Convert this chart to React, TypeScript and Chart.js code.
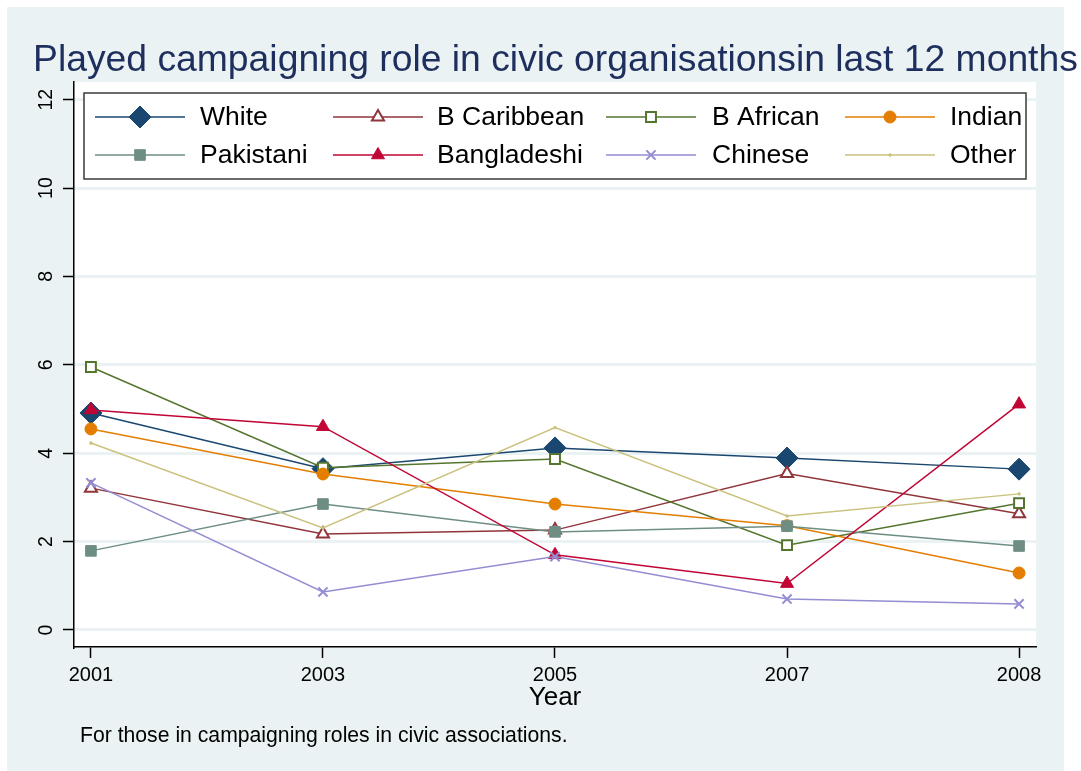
import React, { useEffect, useRef } from 'react';
import { Chart, registerables } from 'chart.js';

Chart.register(...registerables);

const years = ['2001', '2003', '2005', '2007', '2008'];
const yTicks = [0, 2, 4, 6, 8, 10, 12];
const seriesNames = ['White', 'B Caribbean', 'B African', 'Indian', 'Pakistani', 'Bangladeshi', 'Chinese', 'Other'];
const white = [4.91, 3.65, 4.12, 3.89, 3.64];
const bCaribbean = [3.21, 2.17, 2.26, 3.54, 2.63];
const bAfrican = [5.95, 3.67, 3.87, 1.92, 2.87];
const indian = [4.55, 3.53, 2.85, 2.36, 1.29];
const pakistani = [1.79, 2.85, 2.22, 2.35, 1.9];
const bangladeshi = [4.98, 4.6, 1.7, 1.05, 5.11];
const chinese = [3.33, 0.86, 1.66, 0.7, 0.59];
const other = [4.23, 2.31, 4.58, 2.58, 3.08];

const titleText = 'Played campaigning role in civic organisationsin last 12 months';
const xTitle = 'Year';
const noteText = 'For those in campaigning roles in civic associations.';

const FONT = "'Liberation Sans', Arial, Helvetica, sans-serif";

type Style = {
  color: string;
  shape: string;
  r: number;
  hollow: boolean;
  bw: number;
};

const styles: Style[] = [
  { color: '#1a476f', shape: 'rectRot', r: 11, hollow: false, bw: 1 },
  { color: '#90353b', shape: 'triangle', r: 7, hollow: true, bw: 2 },
  { color: '#55752f', shape: 'rect', r: 7, hollow: true, bw: 2 },
  { color: '#e37e00', shape: 'circle', r: 6, hollow: false, bw: 1 },
  { color: '#6e8e84', shape: 'rect', r: 7.5, hollow: false, bw: 1 },
  { color: '#c10534', shape: 'triangle', r: 7.5, hollow: false, bw: 1 },
  { color: '#938dd2', shape: 'crossRot', r: 6.5, hollow: false, bw: 2 },
  { color: '#cac27e', shape: 'circle', r: 1.5, hollow: false, bw: 0.5 },
];

const seriesValues = [white, bCaribbean, bAfrican, indian, pakistani, bangladeshi, chinese, other];

function drawMarker(ctx: CanvasRenderingContext2D, s: Style, x: number, y: number) {
  const r = s.r;
  ctx.save();
  ctx.beginPath();
  ctx.lineWidth = s.bw;
  ctx.strokeStyle = s.color;
  ctx.fillStyle = s.hollow ? '#ffffff' : s.color;
  if (s.shape === 'rectRot') {
    ctx.moveTo(x - r, y);
    ctx.lineTo(x, y - r);
    ctx.lineTo(x + r, y);
    ctx.lineTo(x, y + r);
    ctx.closePath();
  } else if (s.shape === 'rect') {
    const h = Math.SQRT1_2 * r;
    ctx.rect(x - h, y - h, 2 * h, 2 * h);
  } else if (s.shape === 'triangle') {
    let a = 0;
    ctx.moveTo(x + Math.sin(a) * r, y - Math.cos(a) * r);
    a += (2 * Math.PI) / 3;
    ctx.lineTo(x + Math.sin(a) * r, y - Math.cos(a) * r);
    a += (2 * Math.PI) / 3;
    ctx.lineTo(x + Math.sin(a) * r, y - Math.cos(a) * r);
    ctx.closePath();
  } else if (s.shape === 'circle') {
    ctx.arc(x, y, r, 0, Math.PI * 2);
    ctx.closePath();
  } else if (s.shape === 'crossRot') {
    const o = Math.cos(Math.PI / 4) * r;
    ctx.moveTo(x - o, y - o);
    ctx.lineTo(x + o, y + o);
    ctx.moveTo(x + o, y - o);
    ctx.lineTo(x - o, y + o);
    ctx.stroke();
    ctx.restore();
    return;
  }
  ctx.fill();
  if (s.bw > 0) ctx.stroke();
  ctx.restore();
}

const backgroundPlugin = {
  id: 'stataBackground',
  beforeDraw(chart: any) {
    const { ctx, chartArea } = chart;
    ctx.save();
    ctx.fillStyle = '#ffffff';
    ctx.fillRect(0, 0, chart.width, chart.height);
    ctx.fillStyle = '#eaf2f3';
    ctx.fillRect(7, 7, 1057, 764);
    ctx.fillStyle = '#ffffff';
    ctx.fillRect(chartArea.left, chartArea.top, chartArea.right - chartArea.left, chartArea.bottom - chartArea.top);
    ctx.restore();
  },
};

const legendCols = [
  { marker: 140, text: 200 },
  { marker: 378, text: 437 },
  { marker: 651, text: 712 },
  { marker: 890, text: 950 },
];
const legendRows = [117, 155];

const decorPlugin = {
  id: 'stataDecor',
  afterDraw(chart: any) {
    const { ctx, chartArea } = chart;
    ctx.save();
    // Title
    ctx.fillStyle = '#1e2f5e';
    ctx.font = `37.3px ${FONT}`;
    ctx.textAlign = 'left';
    ctx.textBaseline = 'alphabetic';
    ctx.fillText(titleText, 33, 71);

    // Legend box
    const lx = 84, ly = 93, lw = 1026 - 84, lh = 179 - 93;
    ctx.fillStyle = '#ffffff';
    ctx.fillRect(lx, ly, lw, lh);
    ctx.strokeStyle = '#3a3a3a';
    ctx.lineWidth = 1.5;
    ctx.strokeRect(lx, ly, lw, lh);

    ctx.font = `26.5px ${FONT}`;
    ctx.textBaseline = 'middle';
    seriesNames.forEach((name, i) => {
      const col = legendCols[i % 4];
      const rowY = legendRows[Math.floor(i / 4)];
      const s = styles[i];
      ctx.beginPath();
      ctx.strokeStyle = s.color;
      ctx.lineWidth = 1.5;
      ctx.moveTo(col.marker - 45, rowY);
      ctx.lineTo(col.marker + 45, rowY);
      ctx.stroke();
      drawMarker(ctx, s, col.marker, rowY);
      ctx.fillStyle = '#000000';
      ctx.textAlign = 'left';
      ctx.fillText(name, col.text, rowY + 1);
    });

    // X axis title
    ctx.fillStyle = '#000000';
    ctx.font = `26px ${FONT}`;
    ctx.textAlign = 'center';
    ctx.textBaseline = 'middle';
    ctx.fillText(xTitle, (chartArea.left + chartArea.right) / 2, 698);

    // Note
    ctx.font = `21.2px ${FONT}`;
    ctx.textAlign = 'left';
    ctx.textBaseline = 'alphabetic';
    ctx.fillText(noteText, 80, 742);
    ctx.restore();
  },
};

export default function App() {
  const canvasRef = useRef<HTMLCanvasElement | null>(null);

  useEffect(() => {
    if (!canvasRef.current) return;
    Chart.defaults.font.family = FONT;
    const datasets = seriesNames.map((name, i) => {
      const s = styles[i];
      return {
        label: name,
        data: seriesValues[i].map((v, j) => ({ x: j, y: v })),
        borderColor: s.color,
        backgroundColor: s.color,
        borderWidth: 1.5,
        pointStyle: s.shape,
        pointRadius: s.r,
        pointHoverRadius: s.r,
        pointBackgroundColor: s.hollow ? '#ffffff' : s.color,
        pointBorderColor: s.color,
        pointBorderWidth: s.bw,
        tension: 0,
        fill: false,
        order: seriesNames.length - i,
        clip: false as any,
      };
    });

    const chart = new Chart(canvasRef.current, {
      type: 'line',
      data: { datasets },
      options: {
        animation: false,
        responsive: false,
        maintainAspectRatio: false,
        events: [],
        layout: { padding: { left: 0, top: 82, right: 45, bottom: 84 } },
        plugins: {
          legend: { display: false },
          tooltip: { enabled: false },
          title: { display: false },
        },
        scales: {
          x: {
            type: 'linear',
            min: -0.073,
            max: 4.073,
            afterBuildTicks: (scale: any) => {
              scale.ticks = years.map((_, i) => ({ value: i }));
            },
            afterFit: (scale: any) => {
              scale.height = 40;
            },
            ticks: {
              autoSkip: false,
              maxRotation: 0,
              minRotation: 0,
              padding: 5,
              color: '#000000',
              font: { size: 20, family: FONT },
              callback: (value: any) => years[Math.round(Number(value))] ?? '',
            },
            grid: {
              drawOnChartArea: false,
              drawTicks: true,
              tickLength: 11,
              tickColor: '#000000',
              tickWidth: 1.5,
            },
            border: { display: true, color: '#000000', width: 1.5 },
          },
          y: {
            type: 'linear',
            min: -0.385,
            max: 12.4,
            afterBuildTicks: (scale: any) => {
              scale.ticks = yTicks.map((v) => ({ value: v }));
            },
            afterFit: (scale: any) => {
              scale.width = 74;
            },
            ticks: {
              minRotation: 90,
              maxRotation: 90,
              crossAlign: 'center',
              padding: 6,
              color: '#000000',
              font: { size: 19.5, family: FONT },
              callback: (value: any) => String(value),
            },
            grid: {
              color: '#eaf2f3',
              lineWidth: 3,
              drawOnChartArea: true,
              drawTicks: true,
              tickLength: 11,
              tickColor: '#000000',
              tickWidth: 1.5,
            },
            border: { display: true, color: '#000000', width: 1.5 },
          },
        },
      } as any,
      plugins: [backgroundPlugin, decorPlugin],
    });
    return () => chart.destroy();
  }, []);

  return (
    <div style={{ position: 'fixed', left: 0, top: 0, width: 1081, height: 771, background: '#ffffff' }}>
      <canvas ref={canvasRef} width={1081} height={771} style={{ display: 'block', width: 1081, height: 771 }} />
    </div>
  );
}
